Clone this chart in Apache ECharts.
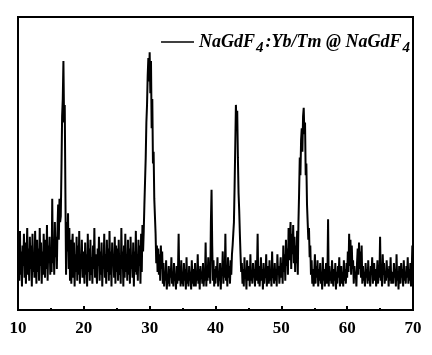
<!DOCTYPE html>
<html><head><meta charset="utf-8">
<script src="https://cdn.jsdelivr.net/npm/echarts@6/dist/echarts.min.js"></script>
<style>html,body{margin:0;padding:0;background:#fff}#c{width:432px;height:355px}</style>
</head><body><div id="c"></div>
<script>
// 2-theta scan: start, step (degrees)
const scanStart = 10;
const scanStep = 0.1;
// x-axis tick labels
const xTicks = [10, 20, 30, 40, 50, 60, 70];
const seriesName = 'NaGdF4:Yb/Tm @ NaGdF4';
// intensity (arbitrary units), one value per scan step, rows = 1 degree
const intensity = [
18,24,10,27,12,20,8,22,15,26,
11,23,9,19,28,12,21,10,25,14,
22,8,26,13,19,11,27,16,9,24,
13,21,10,28,15,23,9,20,12,26,
17,11,24,14,29,10,22,16,25,12,
21,13,38,16,24,12,30,18,25,14,
28,36,24,38,30,32,48,66,72,85,
64,70,40,12,30,20,33,14,28,10,
24,9,21,26,11,23,8,19,13,25,
10,22,12,27,9,18,14,24,11,20,
15,9,23,12,19,8,26,13,21,10,
24,12,18,9,22,14,28,11,19,13,
9,21,15,25,10,20,12,23,8,18,
14,26,11,19,9,24,13,21,10,27,
12,20,8,23,15,19,11,25,9,22,
13,21,10,24,12,18,9,28,14,20,
8,22,11,26,13,19,10,24,12,21,
9,25,14,18,11,23,8,20,13,27,
12,19,10,24,15,22,9,26,13,29,
20,27,36,44,52,64,70,80,86,78,
88,74,85,62,72,50,54,38,32,26,
16,22,13,21,12,19,10,22,14,20,
9,16,8,13,10,17,7,12,9,15,
8,14,11,18,9,13,8,16,10,12,
7,15,9,13,26,10,14,8,17,9,
13,8,16,10,14,7,18,9,12,8,
15,10,13,7,17,9,14,8,12,16,
8,13,10,19,9,14,7,15,11,13,
9,16,8,12,10,23,8,14,10,18,
11,16,9,30,41,22,10,17,8,14,
9,15,11,18,8,13,10,16,7,14,
12,20,9,16,11,26,10,14,8,18,
11,15,9,17,12,19,22,26,30,42,
56,70,62,68,52,40,34,26,19,13,
16,9,14,8,18,11,13,7,17,10,
12,15,8,19,10,13,9,16,11,14,
8,17,10,13,26,9,15,8,12,18,
10,14,7,16,9,13,11,19,8,15,
12,9,17,10,14,8,20,11,13,9,
16,10,14,8,19,12,15,9,13,18,
11,16,9,22,13,19,10,24,15,21,
12,28,17,24,30,14,26,19,29,16,
25,13,22,16,27,12,30,40,52,46,
58,62,54,66,69,60,64,46,50,36,
30,24,28,18,22,12,17,9,14,8,
13,19,9,15,11,17,8,14,10,16,
9,13,7,18,10,14,8,12,16,9,
11,31,8,15,10,13,9,17,12,8,
14,10,16,7,13,9,15,11,18,8,
12,15,9,13,8,17,10,14,9,16,
11,20,13,26,15,24,12,22,14,17,
9,15,11,13,8,16,21,12,23,14,
20,11,22,9,15,10,13,8,16,11,
14,9,17,10,13,8,15,12,18,9,
13,16,10,14,8,12,17,9,15,11,
25,10,14,8,19,12,16,9,13,10,
17,11,14,8,15,10,18,9,13,12,
9,16,11,14,8,19,10,13,7,15,
12,9,16,11,14,8,17,10,13,9,
15,11,18,9,14,10,16,8,13,22,
12
];
const points = intensity.map((v, i) => [+(scanStart + i * scanStep).toFixed(2), v]);

const serif = '"Liberation Serif","Times New Roman",serif';
const chart = echarts.init(document.getElementById('c'), null, {renderer: 'canvas'});
chart.setOption({
  animation: false,
  backgroundColor: '#fff',
  grid: {left: 18, right: 19, top: 17, bottom: 45, show: true, borderColor: '#000', borderWidth: 2, backgroundColor: 'transparent'},
  legend: {
    data: [seriesName],
    right: 17, top: 28,
    icon: 'rect', itemWidth: 33, itemHeight: 1.5,
    itemStyle: {color: '#000'},
    formatter: () => '{a|NaGdF}{s|4}{b|:Yb/Tm @ NaGdF}{s|4}',
    textStyle: {
      rich: {
        a: {fontFamily: serif, fontStyle: 'italic', fontWeight: 'bold', fontSize: 18, color: '#000'},
        b: {fontFamily: serif, fontStyle: 'italic', fontWeight: 'bold', fontSize: 18, color: '#000', padding: [0, 0, 0, 2]},
        s: {fontFamily: serif, fontStyle: 'italic', fontWeight: 'bold', fontSize: 15, color: '#000', padding: [13, 0, 0, 1]}
      }
    }
  },
  xAxis: {
    type: 'value', min: 10, max: 70, interval: 10,
    axisLine: {show: true, lineStyle: {color: '#000', width: 2}},
    axisTick: {show: true, inside: true, length: 4, lineStyle: {color: '#000', width: 2}},
    minorTick: {show: true, splitNumber: 2, length: 2, lineStyle: {color: '#000', width: 2}},
    splitLine: {show: false},
    axisLabel: {
      margin: 10, color: '#000', fontFamily: serif, fontWeight: 'bold', fontSize: 17,
      formatter: v => xTicks.includes(v) ? String(v) : ''
    }
  },
  yAxis: {
    type: 'value', min: 0, max: 100,
    axisLine: {show: false}, axisTick: {show: false}, axisLabel: {show: false}, splitLine: {show: false}
  },
  series: [{
    name: seriesName, type: 'line', data: points, showSymbol: false, symbol: 'none',
    sampling: null, lineStyle: {color: '#000', width: 2}, itemStyle: {color: '#000'}
  }]
});
</script></body></html>
